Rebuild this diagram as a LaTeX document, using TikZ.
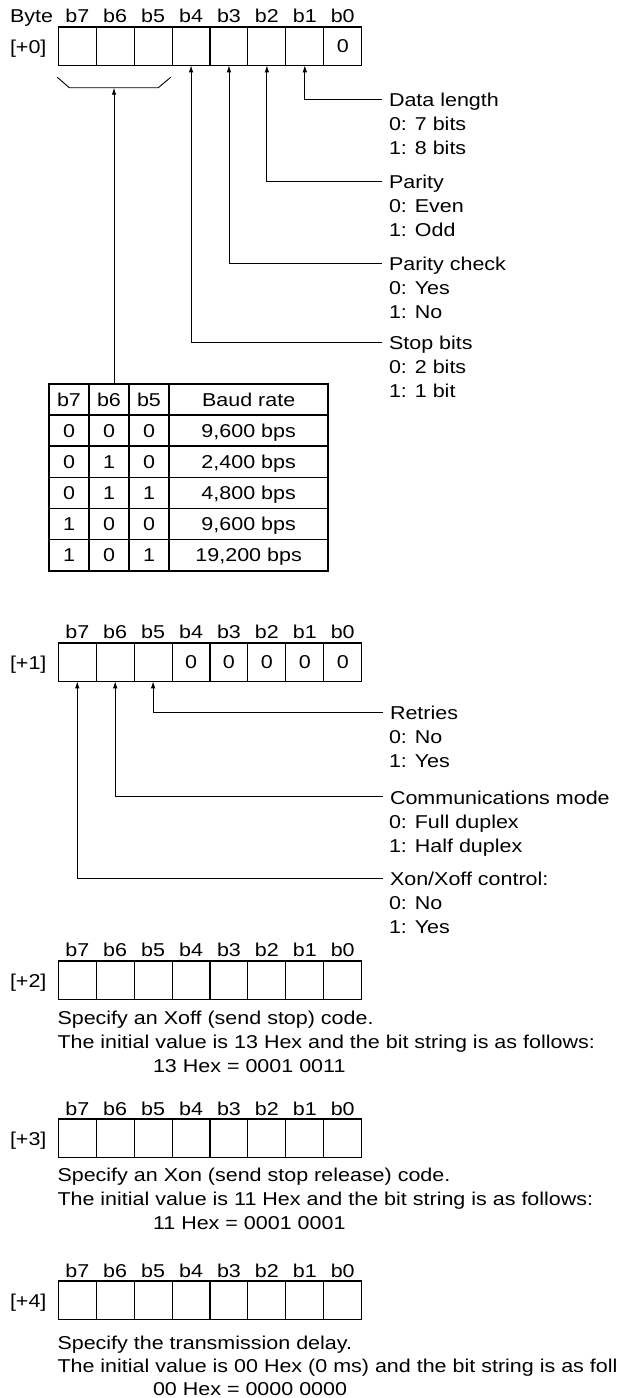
\documentclass[tikz,border=0pt]{standalone}
\usepackage{fontspec}
\setmainfont{Liberation Sans}[FakeStretch=1.155]
\usetikzlibrary{arrows.meta}
\newcommand\bitrow[4]{%
  \foreach \i in {0,...,7}{%
    \pgfmathtruncatemacro\bb{7-\i}%
    \node[cell] (c#1-\bb) at ({58.3+37.925*(\i+0.5)}, {#2+19.15}) {};
    \node[hdr] (h#1-\bb) at ({58.3+37.925*(\i+0.5)}, #3) {b\bb};
  }%
  \node[lbl] (L#1) at (10, {#2+19.15+7.8}) {#4};
}
\newcommand\trow[5]{%
  \node[tcell, minimum width=40pt] (t#1-1) at (69, {384+31.12*(#1+0.5)}) {#2};
  \node[tcell, minimum width=40pt] (t#1-2) at (109, {384+31.12*(#1+0.5)}) {#3};
  \node[tcell, minimum width=40pt] (t#1-3) at (149, {384+31.12*(#1+0.5)}) {#4};
  \node[tcell, minimum width=159.3pt] (t#1-4) at (248.65, {384+31.12*(#1+0.5)}) {#5};
}
\begin{document}
\begin{tikzpicture}[x=1pt,y=-1pt,
  every node/.style={font=\fontsize{18.6pt}{24pt}\selectfont, inner sep=0pt, outer sep=0pt},
  cell/.style={draw, line width=1.1pt, minimum width=37.925pt, minimum height=38.3pt},
  tcell/.style={draw, line width=1.7pt, minimum height=31.12pt, text height=13.3pt, text depth=0pt},
  zero/.style={text height=13.3pt, text depth=0pt},
  conn/.style={line width=0.9pt, -{Latex[length=7pt,width=4.5pt]}},
  lbl/.style={anchor=base west},
  ttl/.style={anchor=base west, inner xsep=7pt, text height=15pt, text depth=0pt},
  hdr/.style={anchor=base},
]
\useasboundingbox (0,0) rectangle (616,1398);
\clip (0,0) rectangle (616,1398);

% ---------- [+0]
\node[lbl] (byte) at (10,22) {Byte};
\bitrow{0}{27}{22}{[+0]}
\node[zero] (z0-0) at (c0-0) {0};

\coordinate (brl) at (57.3,77.3);
\coordinate (brm) at (114,87.7);
\coordinate (brr) at (170.7,77.3);
\draw[line width=0.9pt] (brl) -- (69.3,87.7) -- (158.3,87.7) -- (brr);

\node[ttl] (dl) at (382,106.5) {Data length};
\node[lbl] (dl0) at (389,130.5) {0: 7 bits};
\node[lbl] (dl1) at (389,154.5) {1: 8 bits};
\draw[conn] (dl.west) -| (c0-1.south);

\node[ttl] (par) at (382,188.5) {Parity};
\node[lbl] (par0) at (389,212.5) {0: Even};
\node[lbl] (par1) at (389,236.5) {1: Odd};
\draw[conn] (par.west) -| (c0-2.south);

\node[ttl] (pc) at (382,270.8) {Parity check};
\node[lbl] (pc0) at (389,294.3) {0: Yes};
\node[lbl] (pc1) at (389,318) {1: No};
\draw[conn] (pc.west) -| (c0-3.south);

\node[ttl] (sb) at (382,349.8) {Stop bits};
\node[lbl] (sb0) at (389,373.8) {0: 2 bits};
\node[lbl] (sb1) at (389,397.8) {1: 1 bit};
\draw[conn] (sb.west) -| (c0-4.south);

% table
\trow{0}{b7}{b6}{b5}{Baud rate}
\trow{1}{0}{0}{0}{9,600 bps}
\trow{2}{0}{1}{0}{2,400 bps}
\trow{3}{0}{1}{1}{4,800 bps}
\trow{4}{1}{0}{0}{9,600 bps}
\trow{5}{1}{0}{1}{19,200 bps}
\coordinate (tabtop) at (114,384);
\draw[conn] (tabtop) -- (brm);

% ---------- [+1]
\bitrow{1}{643}{638.8}{[+1]}
\foreach \k in {0,...,4}{\node[zero] (z1-\k) at (c1-\k) {0};}

\node[ttl] (ret) at (383,719.8) {Retries};
\node[lbl] (ret0) at (389,743.8) {0: No};
\node[lbl] (ret1) at (389,767.8) {1: Yes};
\draw[conn] (ret.west) -| (c1-5.south);

\node[ttl] (cm) at (383,804.2) {Communications mode};
\node[lbl] (cm0) at (389,828.2) {0: Full duplex};
\node[lbl] (cm1) at (389,852.2) {1: Half duplex};
\draw[conn] (cm.west) -| (c1-6.south);

\node[ttl] (xo) at (383,885.8) {Xon/Xoff control:};
\node[lbl] (xo0) at (389,909.8) {0: No};
\node[lbl] (xo1) at (389,933.8) {1: Yes};
\draw[conn] (xo.west) -| (c1-7.south);

% ---------- [+2]
\bitrow{2}{961}{956.7}{[+2]}
\node[lbl] (s2a) at (57.5,1024) {Specify an Xoff (send stop) code.};
\node[lbl] (s2b) at (57.5,1048) {The initial value is 13 Hex and the bit string is as follows:};
\node[lbl] (s2c) at (153,1072) {13 Hex = 0001 0011};

% ---------- [+3]
\bitrow{3}{1119}{1115}{[+3]}
\node[lbl] (s3a) at (57.5,1181) {Specify an Xon (send stop release) code.};
\node[lbl] (s3b) at (57.5,1205) {The initial value is 11 Hex and the bit string is as follows:};
\node[lbl] (s3c) at (153,1229) {11 Hex = 0001 0001};

% ---------- [+4]
\bitrow{4}{1281}{1277}{[+4]}
\node[lbl] (s4a) at (57.5,1349.5) {Specify the transmission delay.};
\node[lbl] (s4b) at (57.5,1372.5) {The initial value is 00 Hex (0 ms) and the bit string is as follows:};
\node[lbl] (s4c) at (153,1395) {00 Hex = 0000 0000};
\end{tikzpicture}
\end{document}
